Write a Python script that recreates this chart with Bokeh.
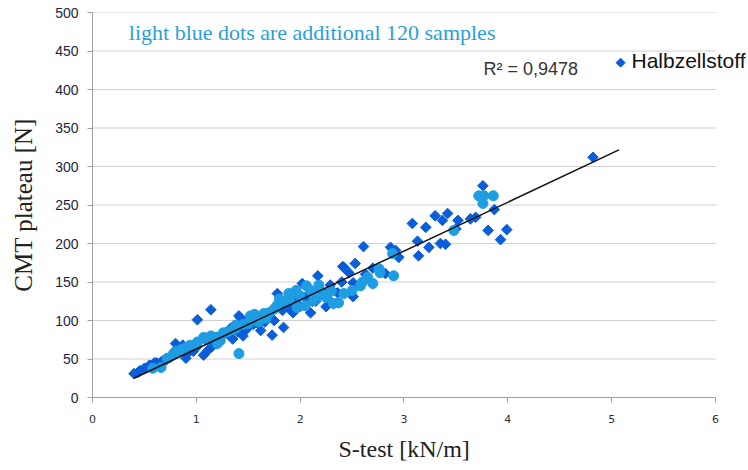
import math
from bokeh.plotting import figure
from bokeh.models import Range1d, Label, FixedTicker, Title
from bokeh.embed import file_html
from bokeh.resources import INLINE

# Halbzellstoff (dark blue diamonds)
dark_x = [0.40, 0.44, 0.46, 0.50, 0.53, 0.55, 0.59, 0.62, 0.66, 0.68, 0.72, 0.75, 0.80, 0.87, 0.90, 0.84,
          0.95, 1.01, 1.14, 1.07, 1.11, 1.15, 1.20, 1.22, 1.30, 1.33, 1.41, 1.43, 1.35, 1.48, 1.55, 1.62,
          1.58, 1.66, 1.73, 1.78, 1.70, 1.83, 1.84, 1.93, 1.88, 2.02, 2.10, 2.05, 2.17, 2.15, 2.26, 2.29,
          2.36, 2.41, 2.47, 2.51, 2.51, 2.53, 2.42, 2.61, 2.63, 2.82, 2.87, 2.92, 2.95, 3.08, 3.13, 3.14,
          3.21, 3.24, 3.30, 3.35, 3.37, 3.40, 3.42, 3.50, 3.52, 3.64, 3.69, 3.76, 3.81, 3.87, 3.93, 3.99,
          4.82, 2.20, 1.95, 1.65, 1.25, 0.97, 0.78, 2.00, 1.50, 1.45,
          1.60, 1.75, 1.90, 2.12, 2.30, 1.40, 1.00, 0.70, 0.60, 0.92, 1.18, 1.52, 2.40, 2.70, 2.25]
dark_y = [31, 33, 35, 38, 39, 42, 44, 45, 46, 48, 50, 52, 70, 68, 51, 60,
          62, 101, 114, 55, 61, 66, 78, 72, 83, 90, 106, 103, 76, 88, 95, 87,
          102, 98, 81, 135, 108, 113, 91, 110, 120, 148, 110, 130, 158, 125, 129, 146,
          136, 170, 162, 149, 131, 174, 169, 196, 160, 161, 195, 191, 182, 226, 203, 184,
          221, 195, 236, 200, 230, 199, 239, 219, 230, 232, 234, 275, 217, 244, 205, 218,
          312, 140, 125, 105, 80, 60, 55, 118, 92, 80,
          95, 100, 115, 125, 140, 85, 65, 48, 45, 58, 70, 97, 150, 168, 118]

# additional 120 samples (light blue dots)
light_x = [0.58, 0.66, 0.72, 0.78, 0.94, 1.01, 1.07, 1.14, 1.23, 1.26, 1.38, 1.38, 1.41, 1.52, 1.65, 1.78,
           1.89, 1.96, 1.97, 2.05, 2.10, 2.13, 2.18, 2.32, 2.37, 2.50, 2.58, 2.65, 2.70, 2.76, 2.77, 2.89,
           2.90, 3.48, 3.72, 3.76, 3.77, 3.86, 0.85, 0.90, 1.00, 1.10, 1.18, 1.30, 1.45, 1.55, 1.60, 1.70,
           1.75, 1.85, 1.90, 2.00, 2.20, 2.25, 1.20, 1.35, 1.50, 0.80,
           1.56, 1.67, 1.80, 2.06, 2.16, 2.30, 2.42, 2.60]
light_y = [38, 39, 51, 57, 68, 72, 78, 80, 74, 84, 94, 90, 57, 106, 109, 120,
           135, 139, 117, 119, 139, 126, 146, 122, 123, 139, 145, 156, 148, 167, 162, 187,
           158, 217, 262, 252, 262, 262, 62, 65, 70, 75, 78, 85, 95, 100, 98, 110,
           115, 125, 128, 132, 135, 130, 70, 88, 96, 60,
           108, 103, 128, 145, 130, 138, 135, 150]

# linear trend line (Excel): y = slope * x + intercept, R² = 0,9478
trend_slope = 63.5
trend_intercept = -0.4
trend_x = [0.40, 5.07]
trend_y = [trend_slope * v + trend_intercept for v in trend_x]

x_ticks = [0, 1, 2, 3, 4, 5, 6]
y_ticks = [0, 50, 100, 150, 200, 250, 300, 350, 400, 450, 500]
x_axis_min, x_axis_max = 0, 6

legend_label = "Halbzellstoff"
x_title = "S-test [kN/m]"
y_title = "CMT plateau [N]"

DARK = "#0B5ED9"
LIGHT = "#1E9DE3"

# frame runs to the right edge so the legend (which sits past the axis end) is not clipped
x_view_max = x_axis_max + 33 / 103.83

p = figure(width=748, height=470, output_backend="svg", toolbar_location=None,
           x_range=Range1d(x_axis_min, x_view_max), y_range=Range1d(0, 500),
           min_border_left=92, min_border_right=0, min_border_top=12, min_border_bottom=73)
p.outline_line_color = None
p.background_fill_color = "white"
p.border_fill_color = "white"

p.xaxis.ticker = FixedTicker(ticks=x_ticks)
p.yaxis.ticker = FixedTicker(ticks=y_ticks)
p.xaxis.bounds = (x_axis_min, x_axis_max)
p.xgrid.grid_line_color = None
p.ygrid.grid_line_color = None

# horizontal dotted gridlines, limited to the axis extent
p.segment(x0=[x_axis_min] * len(y_ticks[1:]), y0=y_ticks[1:],
          x1=[x_axis_max] * len(y_ticks[1:]), y1=y_ticks[1:],
          line_color="#A0A0A0", line_dash="1 1", line_width=1)

for ax in (p.xaxis[0], p.yaxis[0]):
    ax.axis_line_color = "#A0A0A0"
    ax.major_tick_line_color = "#A0A0A0"
    ax.minor_tick_line_color = None
    ax.major_tick_out = 5
    ax.major_tick_in = 0
    ax.axis_label_text_font = "Liberation Serif"
    ax.axis_label_text_font_style = "normal"
    ax.axis_label_text_color = "#222222"

p.yaxis.axis_label = y_title
p.yaxis.axis_label_text_font_size = "25px"
p.xaxis.major_label_text_font = "DejaVu Sans"
p.xaxis.major_label_text_font_size = "11px"
p.xaxis.major_label_text_color = "#333333"
p.xaxis.major_label_standoff = 12
p.yaxis.major_label_text_font = "Liberation Sans"
p.yaxis.major_label_text_font_size = "14px"
p.yaxis.major_label_text_color = "#1E1E3C"
p.yaxis.major_label_standoff = 9
p.yaxis.axis_label_standoff = 15

# x-axis title, centred under the axis (not under the wider frame)
p.add_layout(Title(text=x_title, align="left", offset=246, standoff=17,
                   text_font="Liberation Serif", text_font_style="normal",
                   text_font_size="24px", text_color="#222222"), "below")

p.scatter(dark_x, dark_y, marker="square", angle=math.pi / 4, size=7.5,
          fill_color=DARK, line_color=DARK)
p.scatter(light_x, light_y, marker="circle", size=10, fill_color=LIGHT, line_color=LIGHT)
p.line(trend_x, trend_y, line_color="#111111", line_width=1.5)

p.add_layout(Label(x=0.35, y=474, text="light blue dots are additional 120 samples",
                   text_font="Liberation Serif", text_font_size="22px", text_color="#2A9FD8",
                   text_baseline="middle"))
p.add_layout(Label(x=3.766, y=427, text="R² = 0,9478",
                   text_font="Liberation Sans", text_font_size="18px", text_color="#333333",
                   text_baseline="middle"))

# legend: diamond symbol + series name
p.add_layout(Label(x=528, y=336, x_units="screen", y_units="screen", text="◆",
                   text_font="DejaVu Sans", text_font_size="13px", text_color=DARK,
                   text_align="center", text_baseline="middle"))
p.add_layout(Label(x=539, y=337, x_units="screen", y_units="screen", text=legend_label,
                   text_font="Liberation Sans", text_font_size="21px", text_color="#111111",
                   text_align="left", text_baseline="middle"))

open("out.html", "w").write(file_html(p, INLINE))
